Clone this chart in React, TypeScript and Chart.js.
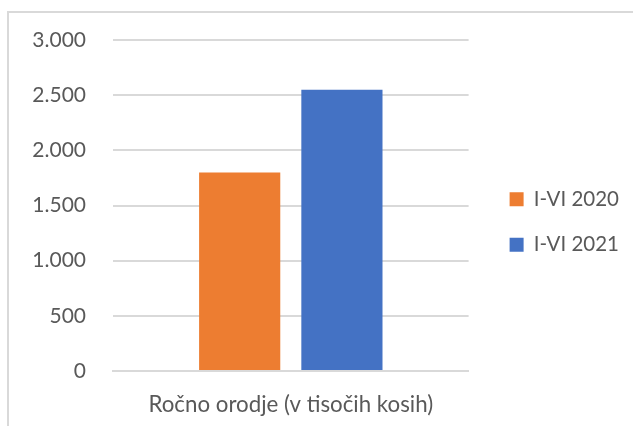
import React, { useEffect, useRef } from "react";
import { Chart, registerables } from "chart.js";

Chart.register(...registerables);

const categories = ["Ročno orodje (v tisočih kosih)"];
const seriesNames = ["I-VI 2020", "I-VI 2021"];
const values2020 = [1800];
const values2021 = [2550];
const seriesColors = ["#ED7D31", "#4472C4"];
const yMin = 0;
const yMax = 3000;
const yStep = 500;

const FONT = "Lato";
const TEXT = "#595959";
const GRID = "#d9d9d9";

function fmt(v: number): string {
  return String(v).replace(/\B(?=(\d{3})+(?!\d))/g, ".");
}

export default function App() {
  const ref = useRef<HTMLCanvasElement | null>(null);

  useEffect(() => {
    if (!ref.current) return;
    const chart = new Chart(ref.current, {
      type: "bar",
      data: {
        labels: categories,
        datasets: [
          {
            label: seriesNames[0],
            data: values2020,
            backgroundColor: seriesColors[0],
            borderWidth: 0,
          },
          {
            label: seriesNames[1],
            data: values2021,
            backgroundColor: seriesColors[1],
            borderWidth: 0,
          },
        ],
      },
      options: {
        responsive: false,
        animation: false,
        datasets: {
          bar: { categoryPercentage: 0.575, barPercentage: 0.794 },
        },
        layout: { padding: { top: 28, bottom: 10, left: 0, right: 4 } },
        plugins: {
          title: {
            display: true,
            text: " ",
            padding: 0,
            font: { size: 10, lineHeight: 1.2 },
          },
          tooltip: { enabled: false },
          legend: {
            position: "right",
            maxWidth: 300,
            labels: {
              boxWidth: 14,
              boxHeight: 14,
              padding: 25,
              color: TEXT,
              font: { family: FONT, size: 20.5 },
            },
          },
        },
        scales: {
          x: {
            grid: { display: false, drawTicks: false },
            border: { display: true, color: GRID, width: 2 },
            ticks: {
              color: TEXT,
              font: { family: FONT, size: 22.3 },
              padding: 20,
            },
            afterFit: (s: any) => {
              s.height = 45;
            },
          },
          y: {
            min: yMin,
            max: yMax,
            border: { display: false },
            grid: { color: GRID, lineWidth: 2, drawTicks: false },
            ticks: {
              stepSize: yStep,
              color: TEXT,
              padding: 27,
              font: { family: FONT, size: 21 },
              callback: (v: any) => fmt(Number(v)),
            },
            afterFit: (s: any) => {
              s.width = 113;
            },
          },
          y2: {
            position: "right",
            display: true,
            grid: { display: false },
            border: { display: false },
            ticks: { display: false },
            afterFit: (s: any) => {
              s.width = 16;
            },
          },
        },
      },
    });
    return () => chart.destroy();
  }, []);

  return (
    <div
      style={{
        position: "fixed",
        left: 0,
        top: 0,
        width: 633,
        height: 426,
        overflow: "hidden",
        background: "#fff",
      }}
    >
      <div
        style={{
          position: "absolute",
          left: 7,
          top: 11,
          width: 700,
          height: 500,
          border: `2px solid ${GRID}`,
          boxSizing: "border-box",
        }}
      />
      <canvas
        ref={ref}
        width={633}
        height={426}
        style={{ position: "absolute", left: 0, top: 0, width: 633, height: 426 }}
      />
    </div>
  );
}
